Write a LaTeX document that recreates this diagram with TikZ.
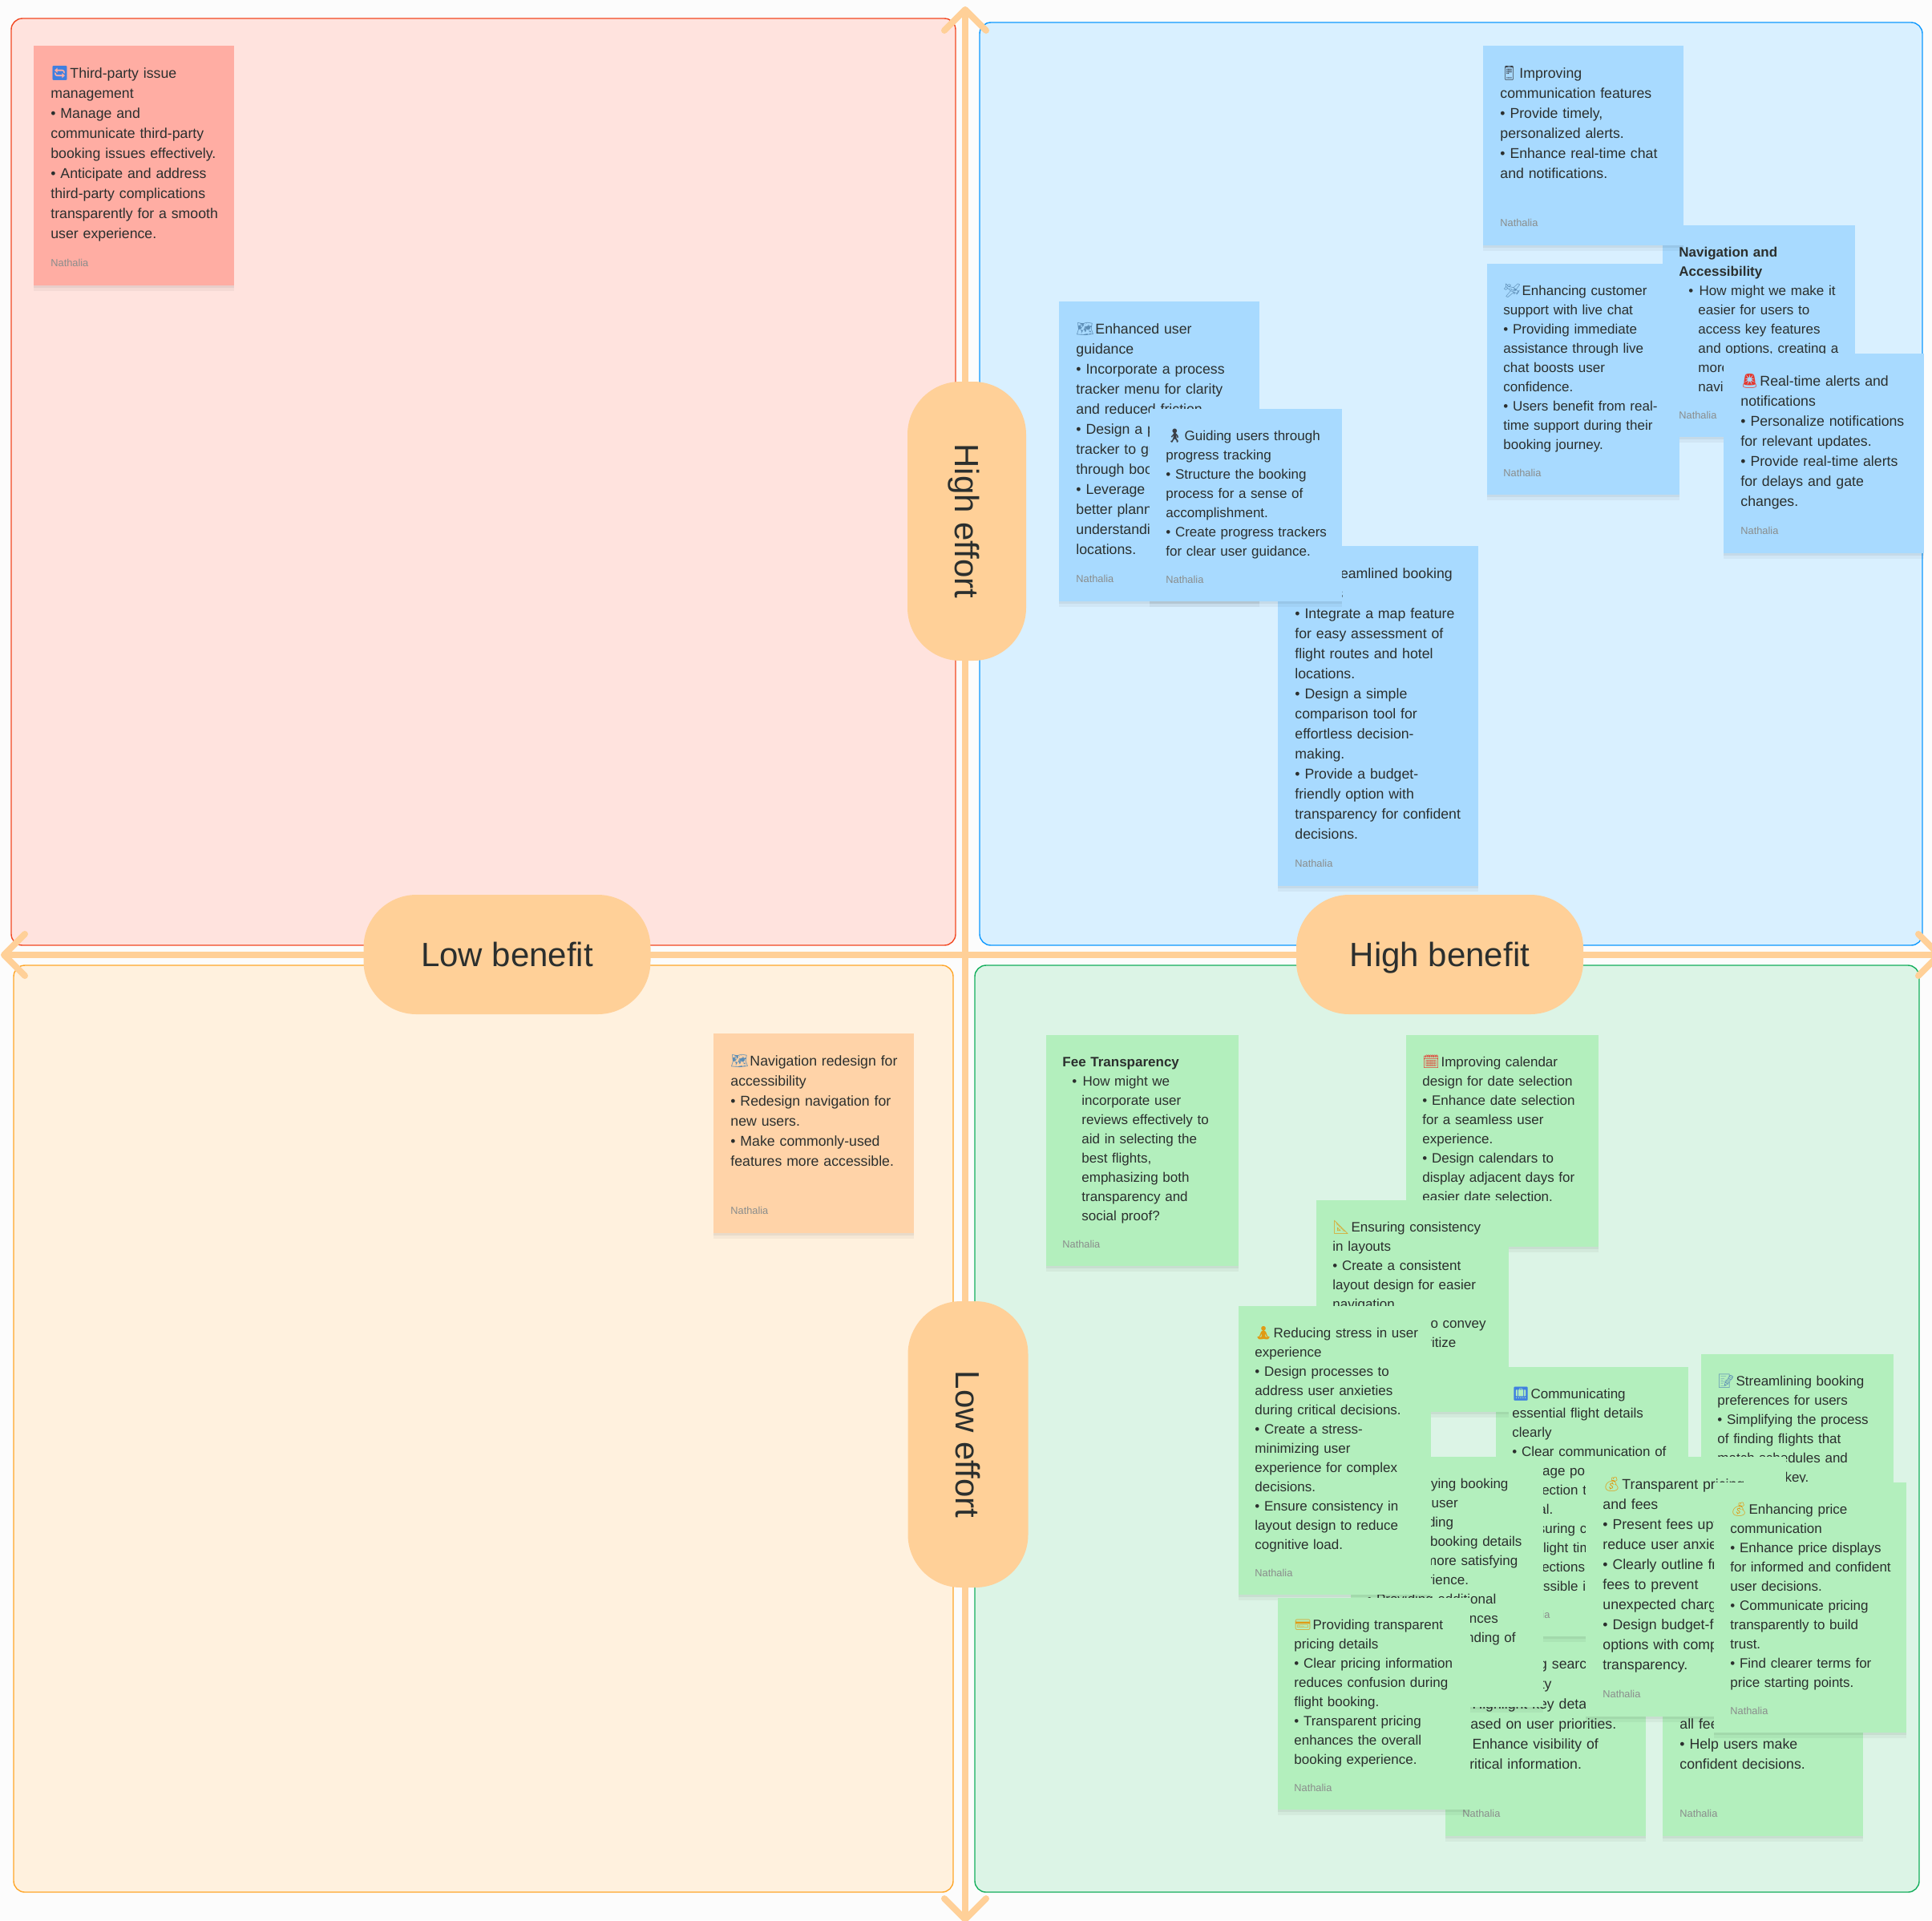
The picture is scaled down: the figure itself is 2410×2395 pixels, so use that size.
\documentclass[tikz,border=0pt]{standalone}
\usepackage{fontspec}
\usepackage{xcolor}
\setmainfont{Liberation Sans}
\newfontfamily\emojifont{Noto Emoji}
\usetikzlibrary{arrows.meta}
\usetikzlibrary{shadows}
\definecolor{pagebg}{HTML}{FCFCFC}
\definecolor{ink}{HTML}{2B2F2E}
\definecolor{axiscol}{HTML}{FFD098}
\definecolor{redfill}{HTML}{FFE3DE}
\definecolor{redline}{HTML}{F24822}
\definecolor{bluefill}{HTML}{D9F0FF}
\definecolor{blueline}{HTML}{0D99FF}
\definecolor{orangefill}{HTML}{FFF1DE}
\definecolor{orangeline}{HTML}{FFA629}
\definecolor{greenfill}{HTML}{DCF4E6}
\definecolor{greenline}{HTML}{14AE5C}
\definecolor{rednote}{HTML}{FFADA3}
\definecolor{bluenote}{HTML}{A8DAFF}
\definecolor{orangenote}{HTML}{FFD3A8}
\definecolor{greennote}{HTML}{B3EFBD}
\definecolor{emoblue}{HTML}{3F7FE0}
\definecolor{emored}{HTML}{E5392F}
\definecolor{emogold}{HTML}{E09A14}
\definecolor{emodark}{HTML}{3A3F46}
\definecolor{emosky}{HTML}{5C8DB5}
\newcommand{\emo}[2]{\smash{\textcolor{#1}{\emojifont #2}}\hspace{.8pt}}
\newcommand{\nathalia}{\\[4.9pt]{\fontsize{6.4}{12}\selectfont\color{ink!55}Nathalia\rule[-.5pt]{0pt}{1pt}}}
\newcommand{\itm}{\hspace*{6pt}\textbullet\hspace{3.6pt}}
\newcommand{\ind}{\hspace*{12pt}}
\tikzset{
    quad/.style={
        draw,
        line width=.7pt,
        rounded corners=7pt
    },
    note/.style={
        anchor=north west,
        align=left,
        inner xsep=10.5pt,
        inner ysep=11.3pt,
        text width=104pt,
        text=ink,
        font=\fontsize{8.85}{12.5}\selectfont,
        execute at begin node={\rightskip=-14pt plus 1fil\rule{0pt}{8.6pt}},
        drop shadow={shadow xshift=0pt, shadow yshift=-3.5pt, opacity=.04, fill=black},
        drop shadow={shadow xshift=0pt, shadow yshift=-1.8pt, opacity=.05, fill=black}
    },
    notesm/.style={
        note,
        inner xsep=10pt,
        inner ysep=10.8pt,
        text width=100pt,
        font=\fontsize{8.5}{12}\selectfont,
        execute at begin node={\rightskip=-14pt plus 1fil\rule{0pt}{7.9pt}}
    },
    pill/.style={
        fill=axiscol,
        rounded corners=33pt,
        text=ink,
        inner sep=0pt,
        text height=15pt,
        text depth=0pt,
        font=\fontsize{21}{24}\selectfont
    },
    pilltext/.style={
        text=ink,
        inner sep=0pt,
        rotate=-90,
        text height=15pt,
        text depth=0pt,
        font=\fontsize{21}{24}\selectfont
    },
    axis/.style={
        draw=axiscol,
        line width=4pt,
        {Straight Barb[round,length=13pt,width=26pt]}-{Straight Barb[round,length=13pt,width=26pt]}
    }
}

\begin{document}
\begin{tikzpicture}[x=.5pt, y=-.5pt]
    \useasboundingbox (0,0) rectangle (2410,2395);
    \clip (0,0) rectangle (2410,2395);
    \fill[pagebg] (0,0) rectangle (2410,2395);

    % Quadrants
    \draw[quad, draw=redline, fill=redfill] (14,23) rectangle (1192,1179);
    \draw[quad, draw=blueline, fill=bluefill] (1222,28) rectangle (2398,1179);
    \draw[quad, draw=orangeline, fill=orangefill] (17,1204) rectangle (1189,2360);
    \draw[quad, draw=greenline, fill=greenfill] (1216,1204) rectangle (2394,2360);

    % Axes
    \coordinate (axisN) at (1204,8);
    \coordinate (axisS) at (1204,2398);
    \coordinate (axisW) at (1,1191);
    \coordinate (axisE) at (2423,1191);
    \draw[axis] (axisN) -- (axisS);
    \draw[axis] (axisW) -- (axisE);

    % Axis labels
    \node[pill, minimum width=179pt, minimum height=74.5pt] (lowbenefit) at (632.5,1190.5) {Low benefit};
    \node[pill, minimum width=179pt, minimum height=74.5pt] (highbenefit) at (1796,1190.5) {High benefit};
    \node[pill, minimum width=74pt, minimum height=174pt] (higheffort) at (1206,650) {};
    \node[pill, minimum width=75pt, minimum height=178.5pt] (loweffort) at (1207.5,1801.5) {};
    \node[pilltext] (higheffortlabel) at (higheffort) {High effort};
    \node[pilltext] (loweffortlabel) at (loweffort) {Low effort};

    % Notes - low benefit, high effort
    \node[note, fill=rednote] (thirdparty) at (42,57) {\emo{emoblue}{🔄}Third-party issue\\management\\• Manage and\\communicate third-party\\booking issues effectively.\\• Anticipate and address\\third-party complications\\transparently for a smooth\\user experience.\nathalia};

    % Notes - high benefit, high effort
    \node[note, fill=bluenote] (guidance) at (1321,376) {\emo{emosky}{🗺}Enhanced user\\guidance\\• Incorporate a process\\tracker menu for clarity\\and reduced friction.\\• Design a progress\\tracker to guide\\through booking.\\• Leverage maps\\better planning\\understanding\\locations.\nathalia};
    \node[note, fill=bluenote] (streamlined) at (1594,681) {\hspace*{17pt}Streamlined booking\\choices\\• Integrate a map feature\\for easy assessment of\\flight routes and hotel\\locations.\\• Design a simple\\comparison tool for\\effortless decision-\\making.\\• Provide a budget-\\friendly option with\\transparency for confident\\decisions.\nathalia};
    \node[notesm, fill=bluenote] (progress) at (1434,510) {\emo{emodark}{🚶}Guiding users through\\progress tracking\\• Structure the booking\\process for a sense of\\accomplishment.\\• Create progress trackers\\for clear user guidance.\nathalia};
    \node[notesm, fill=bluenote] (access) at (2074,281) {\textbf{Navigation and}\\\textbf{Accessibility}\\\itm How might we make it\\\ind easier for users to\\\ind access key features\\\ind and options, creating a\\\ind more\\\ind navigation?\nathalia};
    \node[note, fill=bluenote] (comm) at (1850,57) {\emo{emodark}{📱}Improving\\communication features\\• Provide timely,\\personalized alerts.\\• Enhance real-time chat\\and notifications.\\~\nathalia};
    \node[notesm, fill=bluenote] (livechat) at (1855,329) {\emo{emosky}{🛩}Enhancing customer\\support with live chat\\• Providing immediate\\assistance through live\\chat boosts user\\confidence.\\• Users benefit from real-\\time support during their\\booking journey.\nathalia};
    \node[note, fill=bluenote] (alerts) at (2150,441) {\emo{emored}{🚨}Real-time alerts and\\notifications\\• Personalize notifications\\for relevant updates.\\• Provide real-time alerts\\for delays and gate\\changes.\nathalia};

    % Notes - low benefit, low effort
    \node[note, fill=orangenote] (navredesign) at (890,1289) {\emo{emosky}{🗺}Navigation redesign for\\accessibility\\• Redesign navigation for\\new users.\\• Make commonly-used\\features more accessible.\\~\nathalia};

    % Notes - high benefit, low effort
    \node[notesm, fill=greennote] (feetrans) at (1305,1291) {\textbf{Fee Transparency}\\\itm How might we\\\ind incorporate user\\\ind reviews effectively to\\\ind aid in selecting the\\\ind best flights,\\\ind emphasizing both\\\ind transparency and\\\ind social proof?\nathalia};
    \node[note, fill=greennote] (search) at (1803,2041) {\hspace*{11pt}Enhancing search\\discoverability\\• Highlight key details\\based on user priorities.\\• Enhance visibility of\\critical information.\\~\nathalia};
    \node[note, fill=greennote] (allfees) at (2074,2041) {~\\~\\~\\all fees\\• Help users make\\confident decisions.\\~\nathalia};
    \node[notesm, fill=greennote] (calendar) at (1754,1291) {\emo{emored}{🗓}Improving calendar\\design for date selection\\• Enhance date selection\\for a seamless user\\experience.\\• Design calendars to\\display adjacent days for\\easier date selection.\nathalia};
    \node[notesm, fill=greennote] (flightinfo) at (1866,1705) {\emo{emoblue}{🛄}Communicating\\essential flight details\\clearly\\• Clear communication of\\baggage policies\\connection to\\arrival.\\• Ensuring c\\and flight tim\\connections\\of possible is\nathalia};
    \node[notesm, fill=greennote] (layouts) at (1642,1497) {\emo{emogold}{📐}Ensuring consistency\\in layouts\\• Create a consistent\\layout design for easier\\navigation\\• Use tint cues to convey\\structuring, prioritize\\~\nathalia};
    \node[notesm, fill=greennote] (clarity) at (1685,1817) {\hspace*{20pt}Clarifying booking\\details for user\\understanding\\• Concise booking details\\ensure a more satisfying\\user experience.\\• Providing additional\\information enhances\\clearer understanding of\\~\nathalia};
    \node[notesm, fill=greennote] (prefs) at (2122,1689) {\emo{emosky}{📝}Streamlining booking\\preferences for users\\• Simplifying the process\\of finding flights that\\match schedules and\\budgets is key.\nathalia};
    \node[notesm, fill=greennote] (stress) at (1545,1629) {\emo{emogold}{🧘}Reducing stress in user\\experience\\• Design processes to\\address user anxieties\\during critical decisions.\\• Create a stress-\\minimizing user\\experience for complex\\decisions.\\• Ensure consistency in\\layout design to reduce\\cognitive load.\nathalia};
    \node[notesm, fill=greennote] (pricing) at (1594,1993) {\emo{emogold}{💳}Providing transparent\\pricing details\\• Clear pricing information\\reduces confusion during\\flight booking.\\• Transparent pricing\\enhances the overall\\booking experience.\nathalia};
    \node[note, fill=greennote] (fees) at (1978,1817) {\emo{emogold}{💰}Transparent pricing\\and fees\\• Present fees upfront\\reduce user anxiety.\\• Clearly outline front\\fees to prevent\\unexpected charges.\\• Design budget-friendly\\options with comparison\\transparency.\nathalia};
    \node[notesm, fill=greennote] (pricecomm) at (2138,1849) {\emo{emogold}{💰}Enhancing price\\communication\\• Enhance price displays\\for informed and confident\\user decisions.\\• Communicate pricing\\transparently to build\\trust.\\• Find clearer terms for\\price starting points.\nathalia};
\end{tikzpicture}
\end{document}
